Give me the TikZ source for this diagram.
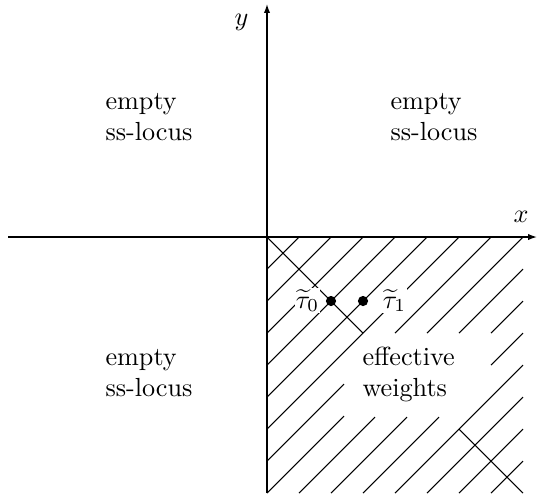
\documentclass[tikz,border=0pt]{standalone}
\usetikzlibrary{arrows.meta}
\tikzset{
  hatch/.style={line width=0.4pt},
  axis/.style={line width=0.5pt, -{Latex[length=3.4pt,width=2.4pt]}},
  txt/.style={inner sep=0pt, anchor=base west},
  lab/.style={inner sep=0.5pt, fill=white},
  dotnode/.style={circle, fill=black, inner sep=0pt, minimum size=3.9pt},
}
\begin{document}
\begin{tikzpicture}[x=0.382pt,y=-0.382pt]
\useasboundingbox (0,0) rectangle (538,496);
% hatching of the fourth quadrant (u right, v down from the origin)
\begin{scope}[shift={(267,237)}]
  \draw[hatch]
    (0,32) -- (32,0)
    (0,64) -- (64,0)
    (0,96) -- (96,0)
    (0,128) -- (128,0)
    (0,160) -- (160,0)
    (0,192) -- (192,0)
    (0,224) -- (77,147)   (128,96) -- (224,0)
    (0,256) -- (77,179)   (160,96) -- (256,0)
    (32,256) -- (108,180) (192,96) -- (256,32)
    (64,256) -- (140,180) (224,96) -- (256,64)
    (96,256) -- (172,180) (224,128) -- (256,96)
    (128,256) -- (256,128)
    (160,256) -- (256,160)
    (192,256) -- (256,192)
    (224,256) -- (256,224);
  \draw[hatch] (0,0) -- (96,96) (192,192) -- (256,256);
\end{scope}
% axes
\coordinate (xs) at (8,237);
\coordinate (xe) at (537,237);
\coordinate (ys) at (267,493);
\coordinate (ye) at (267,4);
\draw[axis] (xs) -- (xe);
\draw[axis] (ys) -- (ye);
\node[txt] (xl) at (513,222) {$x$};
\node[txt] (yl) at (234,25) {$y$};
% labels and points
\node[lab, anchor=base east] (t0l) at (321,308) {$\widetilde{\tau}_0$};
\node[lab, anchor=base west] (t1l) at (381,308) {$\widetilde{\tau}_1$};
\node[dotnode] (t0) at (331,301) {};
\node[dotnode] (t1) at (363,301) {};
% region texts
\node[txt] (a1) at (105,109) {empty};
\node[txt] (a2) at (105,140) {ss-locus};
\node[txt] (b1) at (390,109) {empty};
\node[txt] (b2) at (390,140) {ss-locus};
\node[txt] (c1) at (105,365) {empty};
\node[txt] (c2) at (105,396) {ss-locus};
\node[txt] (d1) at (362,365) {effective};
\node[txt] (d2) at (362,396) {weights};
\end{tikzpicture}
\end{document}
